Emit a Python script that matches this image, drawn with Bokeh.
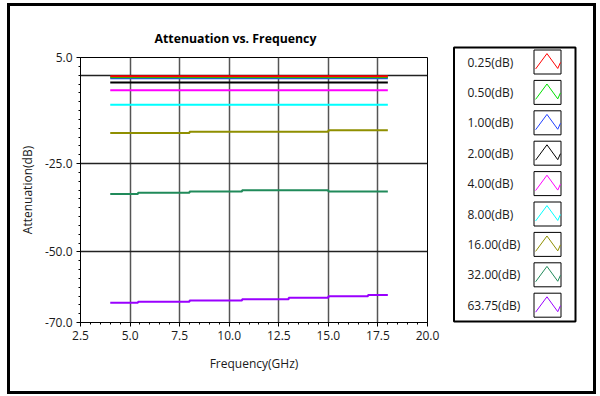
import numpy as np
from bokeh.plotting import figure
from bokeh.layouts import row, column
from bokeh.models import Range1d, FixedTicker, PrintfTickFormatter
from bokeh.core.properties import value
from bokeh.embed import file_html
from bokeh.resources import INLINE

# ---------------- data ----------------
freq_ghz = [4.0, 5.4, 8.0, 10.65, 13.0, 15.0, 17.0, 18.0]
att_0_25 = [-0.3, -0.3, -0.3, -0.3, -0.3, -0.3, -0.3, -0.3]
att_0_50 = [-0.6, -0.6, -0.6, -0.6, -0.6, -0.6, -0.6, -0.6]
att_1_00 = [-0.9, -0.9, -0.9, -0.9, -0.9, -0.9, -0.9, -0.9]
att_2_00 = [-2.1, -2.1, -2.1, -2.1, -2.1, -2.1, -2.1, -2.1]
att_4_00 = [-4.3, -4.3, -4.3, -4.3, -4.3, -4.3, -4.3, -4.3]
att_8_00 = [-8.35, -8.35, -8.35, -8.35, -8.35, -8.35, -8.35, -8.35]
att_16_00 = [-16.4, -16.4, -16.0, -16.0, -16.0, -15.6, -15.6, -15.6]
att_32_00 = [-33.6, -33.3, -32.95, -32.6, -32.6, -32.95, -32.95, -32.95]
att_63_75 = [-64.4, -64.1, -63.8, -63.4, -63.0, -62.6, -62.2, -62.2]

series_values = [att_0_25, att_0_50, att_1_00, att_2_00, att_4_00,
                 att_8_00, att_16_00, att_32_00, att_63_75]
series_labels = ["0.25(dB)", "0.50(dB)", "1.00(dB)", "2.00(dB)", "4.00(dB)",
                 "8.00(dB)", "16.00(dB)", "32.00(dB)", "63.75(dB)"]
series_colors = ["#ff0000", "#00e000", "#2040ff", "#000000", "#ff00ff",
                 "#00ffff", "#8f8f00", "#208a5a", "#9a00ff"]

x_ticks = [2.5, 5.0, 7.5, 10.0, 12.5, 15.0, 17.5, 20.0]
y_ticks = [5.0, -25.0, -50.0, -70.0]
y_grid = [0.0, -25.0, -50.0]

FONT = "Open Sans"
TXT = "#1a1a1a"

# layout geometry (pixels)
BORDER = 3
CONTENT_H = 385
MAIN_W = 442
LEG_W = 141

p = figure(width=MAIN_W, height=CONTENT_H, x_range=Range1d(2.5, 20.0),
           y_range=Range1d(-70.0, 5.0), output_backend="svg",
           toolbar_location=None, min_border_left=70, min_border_right=25,
           min_border_top=51, min_border_bottom=69,
           background_fill_color="white", border_fill_color="white",
           title="Attenuation vs. Frequency")
p.title.text_font = FONT
p.title.text_font_size = "12.3px"
p.title.text_font_style = "bold"
p.title.text_color = "black"
p.title.align = "left"
p.title.offset = 74
p.title.standoff = 21

# axes
p.xaxis.ticker = FixedTicker(ticks=x_ticks,
                             minor_ticks=list(np.arange(2.5, 20.01, 0.5)))
p.yaxis.ticker = FixedTicker(ticks=y_ticks,
                             minor_ticks=list(np.arange(-70.0, 5.01, 2.5)))
for ax in (p.xaxis[0], p.yaxis[0]):
    ax.formatter = PrintfTickFormatter(format="%.1f")
    ax.major_tick_in = 0
    ax.major_tick_out = 4
    ax.minor_tick_in = 0
    ax.minor_tick_out = 2
    ax.axis_line_color = "black"
    ax.major_tick_line_color = "black"
    ax.minor_tick_line_color = "black"
    ax.major_label_text_font = FONT
    ax.major_label_text_font_size = "12px"
    ax.major_label_text_color = TXT
    ax.axis_label_text_font = FONT
    ax.axis_label_text_font_size = "12px"
    ax.axis_label_text_font_style = "normal"
    ax.axis_label_text_color = TXT
    ax.major_label_standoff = 4
p.xaxis.axis_label = "Frequency(GHz)"
p.yaxis.axis_label = "Attenuation(dB)"
p.xaxis.axis_label_standoff = 12
p.yaxis.axis_label_standoff = 6

p.xgrid.ticker = FixedTicker(ticks=x_ticks)
p.ygrid.ticker = FixedTicker(ticks=y_grid)
p.xgrid.grid_line_color = "#555555"
p.xgrid.grid_line_width = 1.5
p.ygrid.grid_line_color = "#222222"
p.ygrid.grid_line_width = 1.5
p.outline_line_color = "black"
p.outline_line_width = 1
p.outline_line_alpha = 1

for vals, col in reversed(list(zip(series_values, series_colors))):
    p.step(freq_ghz, vals, mode="after", line_color=col, line_width=2)

# ---------------- legend panel (pixel coordinates, y downwards) ----------------
lg = figure(width=LEG_W, height=CONTENT_H, x_range=Range1d(0, LEG_W),
            y_range=Range1d(CONTENT_H, 0), output_backend="svg",
            toolbar_location=None, x_axis_type=None, y_axis_type=None,
            min_border=0, background_fill_color="white",
            border_fill_color="white")
lg.grid.visible = False
lg.outline_line_color = None

lg.quad(left=[1.5], right=[123], top=[41], bottom=[315], fill_alpha=0,
        line_color="black", line_width=2)

n = len(series_labels)
centers = [55.5 + 30.4 * i for i in range(n)]
lg.text(x=[15] * n, y=centers, text=series_labels, text_font=value(FONT),
        text_font_size="12px", text_color=TXT, text_align="left",
        text_baseline="middle")
bl, br = 81.5, 108.5
lg.quad(left=[bl] * n, right=[br] * n, top=[c - 12 for c in centers],
        bottom=[c + 12 for c in centers], fill_alpha=0, line_color="black",
        line_width=1)
zx = [0.06, 0.48, 0.88, 0.98]
zy = [0.79, 0.15, 0.77, 0.52]
xs = [[bl + (br - bl) * v for v in zx] for c in centers]
ys = [[c - 12 + 24 * v for v in zy] for c in centers]
lg.multi_line(xs=xs, ys=ys, line_color=series_colors, line_width=1)

layout = row(p, column(lg))
layout.styles = {"border": f"{BORDER}px solid black",
                 "margin-left": "7px", "margin-top": "3px"}

open("out.html", "w").write(file_html(layout, INLINE))
